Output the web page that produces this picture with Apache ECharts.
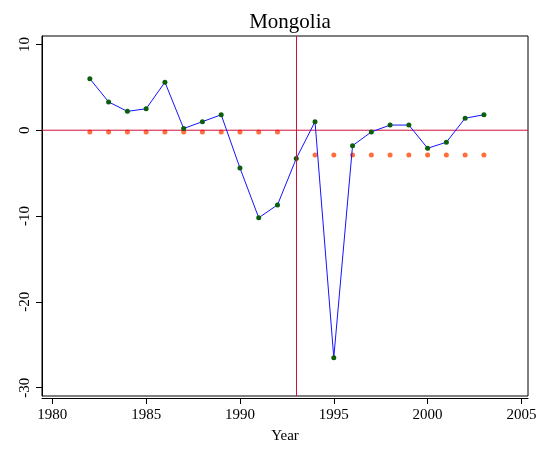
<!DOCTYPE html>
<html>
<head>
<meta charset="utf-8">
<title>Mongolia</title>
<script src="https://cdn.jsdelivr.net/npm/echarts@6/dist/echarts.min.js"></script>
<style>
  html, body { margin: 0; padding: 0; background: #fff; }
  #chart { width: 548px; height: 449px; }
</style>
</head>
<body>
<div id="chart"></div>
<script>
const years = [1982, 1983, 1984, 1985, 1986, 1987, 1988, 1989, 1990, 1991, 1992,
               1993, 1994, 1995, 1996, 1997, 1998, 1999, 2000, 2001, 2002, 2003]
const actual = [6.0, 3.3, 2.2, 2.5, 5.6, 0.2, 1.0, 1.8, -4.4, -10.2, -8.7,
                -3.3, 1.0, -26.5, -1.8, -0.2, 0.6, 0.6, -2.1, -1.4, 1.4, 1.8]

const preYears = [1982, 1983, 1984, 1985, 1986, 1987, 1988, 1989, 1990, 1991, 1992]
const preMean = [-0.2, -0.2, -0.2, -0.2, -0.2, -0.2, -0.2, -0.2, -0.2, -0.2, -0.2]
const postYears = [1994, 1995, 1996, 1997, 1998, 1999, 2000, 2001, 2002, 2003]
const postMean = [-2.9, -2.9, -2.9, -2.9, -2.9, -2.9, -2.9, -2.9, -2.9, -2.9]

const breakYear = 1993
const zeroLevel = 0
const xMin = 1979.45
const xMax = 2005.35
const xTicks = [1980, 1985, 1990, 1995, 2000, 2005]
const yTicks = [-30, -20, -10, 0, 10]

const serif = '"Liberation Serif", "DejaVu Serif", serif'
const red = '#D0103A'

const chart = echarts.init(document.getElementById('chart'))

chart.setOption({
  animation: false,
  title: {
    text: 'Mongolia',
    left: 285,
    textAlign: 'center',
    top: 7,
    textStyle: { fontFamily: serif, fontSize: 21, fontWeight: 'normal', color: '#000' }
  },
  grid: {
    left: 42, top: 36, width: 486, height: 365,
    show: true, borderColor: '#000', borderWidth: 1, backgroundColor: '#fff'
  },
  xAxis: {
    type: 'value',
    min: xMin,
    max: xMax,
    offset: 2,
    splitLine: { show: false },
    axisLine: { onZero: false, lineStyle: { color: '#000', width: 1 } },
    axisTick: { customValues: xTicks, length: 6, lineStyle: { color: '#000' } },
    axisLabel: {
      customValues: xTicks, margin: 10,
      formatter: v => String(v),
      fontFamily: serif, fontSize: 15, color: '#000'
    },
    name: 'Year',
    nameLocation: 'middle',
    nameGap: 31,
    nameTextStyle: { fontFamily: serif, fontSize: 15, color: '#000' }
  },
  yAxis: {
    type: 'value',
    min: -30.97,
    max: 10.98,
    splitLine: { show: false },
    axisLine: { onZero: false, lineStyle: { color: '#000', width: 1 } },
    axisTick: { customValues: yTicks, length: 6, lineStyle: { color: '#000' } },
    axisLabel: {
      customValues: yTicks, rotate: 90, margin: 9,
      formatter: v => String(v),
      fontFamily: serif, fontSize: 15, color: '#000'
    }
  },
  series: [
    {
      // reference line at zero
      type: 'line',
      data: [[xMin, zeroLevel], [xMax, zeroLevel]],
      symbol: 'none',
      silent: true,
      lineStyle: { color: red, width: 1 },
      markLine: {
        silent: true,
        symbol: 'none',
        label: { show: false },
        lineStyle: { color: red, width: 1, type: 'solid' },
        data: [{ xAxis: breakYear }]
      }
    },
    {
      type: 'scatter',
      data: preYears.map((y, i) => [y, preMean[i]]),
      symbolSize: 5,
      itemStyle: { color: '#FF4A0A' }
    },
    {
      type: 'scatter',
      data: postYears.map((y, i) => [y, postMean[i]]),
      symbolSize: 5,
      itemStyle: { color: '#FF4A0A' }
    },
    {
      type: 'line',
      data: years.map((y, i) => [y, actual[i]]),
      symbol: 'circle',
      symbolSize: 5,
      showAllSymbol: true,
      lineStyle: { color: '#1414FF', width: 1 },
      itemStyle: { color: '#0B5E0B' }
    }
  ]
})
</script>
</body>
</html>
